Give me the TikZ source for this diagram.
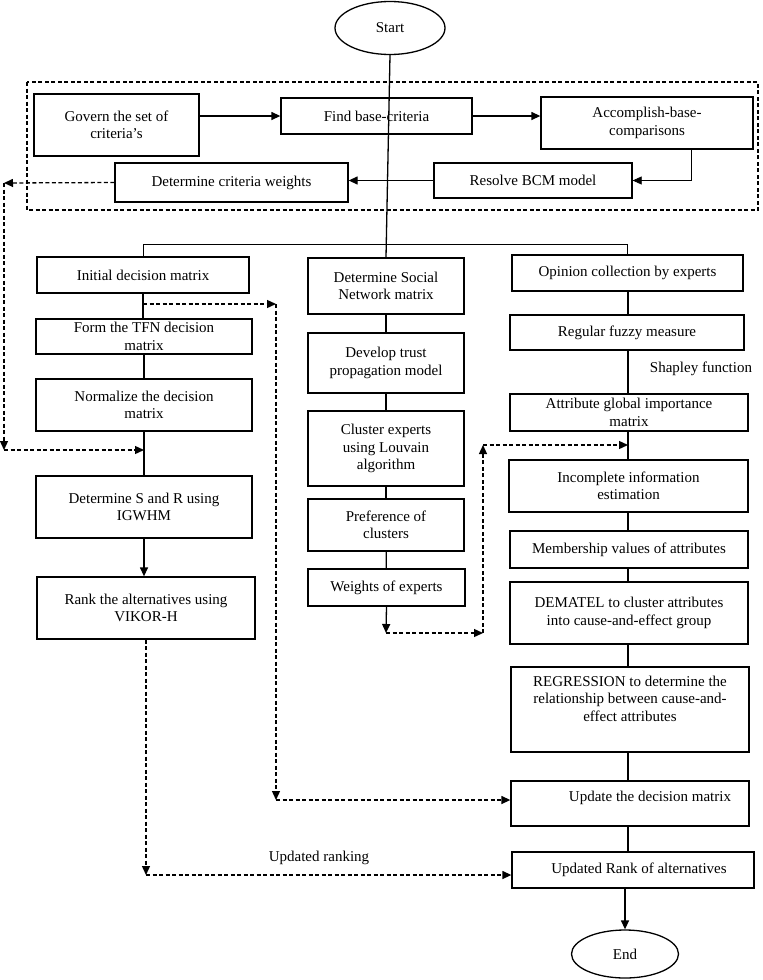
\documentclass[tikz,border=0pt]{standalone}
\usepackage{fontspec}
\setmainfont{Liberation Serif}
\usetikzlibrary{arrows.meta, shapes.geometric}

\begin{document}
\begin{tikzpicture}[
  x=1pt, y=-1pt,
  font=\fontsize{15}{17.5}\selectfont,
  box/.style={draw, line width=1.3pt, align=center, inner sep=1pt},
  term/.style={draw, ellipse, line width=1.3pt, inner sep=0pt},
  ln/.style={line width=1.3pt},
  thinln/.style={line width=0.7pt},
  arr/.style={-{Triangle[length=9pt, width=8pt]}, line width=1.3pt},
  thinarr/.style={-{Triangle[length=9pt, width=8pt]}, line width=0.7pt},
  darr/.style={arr, dash pattern=on 4pt off 2.5pt},
  frame/.style={draw, line width=1.2pt, dash pattern=on 4pt off 2.5pt}
]
\useasboundingbox (0,0) rectangle (763,980);

% BCM block
\draw[frame] (27,82) rectangle (758,210);
\node[term, minimum width=110pt, minimum height=53pt] (start) at (390,28) {Start};
\node[box, minimum width=165pt, minimum height=62pt] (gov) at (116.5,125) {Govern the set of\\criteria’s};
\node[box, minimum width=191pt, minimum height=36pt] (fbc) at (376.5,116) {Find base-criteria};
\node[box, minimum width=212pt, minimum height=52pt] (acc) at (647,123) {Accomplish-base-\\comparisons};
\node[box, minimum width=198pt, minimum height=35pt] (bcm) at (533,180.5) {Resolve BCM model};
\node[box, minimum width=233pt, minimum height=39pt] (dcw) at (231.5,182.5) {Determine criteria weights};

% left column
\node[box, minimum width=212pt, minimum height=36pt] (idm) at (143,275) {Initial decision matrix};
\node[box, minimum width=216pt, minimum height=35pt] (tfn) at (144,336.5) {Form the TFN decision\\matrix};
\node[box, minimum width=216pt, minimum height=52pt] (nrm) at (144,405) {Normalize the decision\\matrix};
\node[box, minimum width=216pt, minimum height=62pt] (snr) at (144,507) {Determine S and R using\\IGWHM};
\node[box, minimum width=218pt, minimum height=62pt] (rnk) at (146,608) {Rank the alternatives using\\VIKOR-H};

% middle column
\node[box, minimum width=156pt, minimum height=56pt] (sna) at (386,286) {Determine Social\\Network matrix};
\node[box, minimum width=156pt, minimum height=60pt] (dtp) at (386,363) {Develop trust\\propagation model};
\node[box, minimum width=156pt, minimum height=75pt] (cel) at (386,448.5) {Cluster experts\\using Louvain\\algorithm};
\node[box, minimum width=156pt, minimum height=52pt] (poc) at (386,525) {Preference of\\clusters};
\node[box, minimum width=157pt, minimum height=37pt] (woe) at (386.5,587.5) {Weights of experts};

% right column
\node[box, minimum width=231pt, minimum height=36pt] (oce) at (627.5,273) {Opinion collection by experts};
\node[box, minimum width=234pt, minimum height=35pt] (rfm) at (627,332.5) {Regular fuzzy measure};
\node (shp) at (701,369) {Shapley function};
\node[box, minimum width=238pt, minimum height=37pt] (agi) at (629,412.5) {Attribute global importance\\matrix};
\node[box, minimum width=239pt, minimum height=52pt] (iie) at (628.5,486) {Incomplete information\\estimation};
\node[box, minimum width=238pt, minimum height=37pt] (mva) at (629,549.5) {Membership values of attributes};
\node[box, minimum width=238pt, minimum height=62pt] (dem) at (629,613) {DEMATEL to cluster attributes\\into cause-and-effect group};
\node[box, minimum width=238pt, minimum height=85pt, text depth=22pt] (reg) at (630,709.5) {REGRESSION to determine the\\relationship between cause-and-\\effect attributes};
\node[box, minimum width=238pt, minimum height=45pt, text depth=14pt] (udm) at (630,803.5) {\hspace{40pt}Update the decision matrix};
\node[box, minimum width=242pt, minimum height=36pt] (ura) at (633,870) {\hspace{12pt}Updated Rank of alternatives};
\node[term, minimum width=107pt, minimum height=48pt] (end) at (625,954) {End};
\node (upr) at (319,858) {Updated ranking};

\coordinate (br) at (0,244);
\coordinate (lw) at (4,183);
\coordinate (lb) at (4,450);
\coordinate (rt) at (276,304);
\coordinate (rb) at (276,800);
\coordinate (wb) at (386,633);
\coordinate (mb) at (483,633);
\coordinate (mt) at (483,445);
\coordinate (kb) at (146,875);
\coordinate (rc) at (628,0);

% BCM connectors
\draw[ln] (start.south) -- (sna.north);
\draw[arr] (gov.east |- fbc) -- (fbc.west);
\draw[arr] (fbc.east) -- (fbc.east -| acc.west);
\draw[thinarr] ([xshift=44pt]acc.south) |- (bcm.east);
\draw[arr] (bcm.west) -- (bcm.west -| dcw.east);
\draw[darr] (dcw.west) -- (lw);
\draw[darr] (lw) -- (lb);
\draw[darr] (lb) -- (lb -| nrm.south);

% branches
\draw[thinln] (idm.north) -- (idm.north |- br) -- (oce.north |- br) -- (oce.north);

% left column
\draw[ln] (idm.south) -- (idm.south |- tfn.north);
\draw[ln] (tfn.south) -- (tfn.south |- nrm.north);
\draw[ln] (nrm.south) -- (nrm.south |- snr.north);
\draw[arr] (snr.south) -- (snr.south |- rnk.north);
\draw[darr] (idm.south |- rt) -- (rt);
\draw[darr] (rt) -- (rb);
\draw[darr] (rb) -- (rb -| udm.west);
\draw[darr] (rnk.south) -- (kb);
\draw[darr] (kb) -- (kb -| ura.west);

% middle column
\draw[ln] (sna) -- (dtp);
\draw[ln] (dtp) -- (cel);
\draw[ln] (cel) -- (poc);
\draw[ln] (poc) -- (woe);
\draw[arr] (woe.south) -- (wb);
\draw[darr] (wb) -- (mb);
\draw[darr] (mb) -- (mt);
\draw[darr] (mt) -- (mt -| rc);

% right column
\draw[ln] (oce.south -| rc) -- (rfm.north -| rc);
\draw[ln] (rfm.south -| rc) -- (agi.north -| rc);
\draw[ln] (agi.south -| rc) -- (iie.north -| rc);
\draw[ln] (iie.south -| rc) -- (mva.north -| rc);
\draw[ln] (mva.south -| rc) -- (dem.north -| rc);
\draw[ln] (dem.south -| rc) -- (reg.north -| rc);
\draw[ln] (reg.south -| rc) -- (udm.north -| rc);
\draw[ln] (udm.south -| rc) -- (ura.north -| rc);
\draw[arr] (end.north |- ura.south) -- (end.north);
\end{tikzpicture}
\end{document}
